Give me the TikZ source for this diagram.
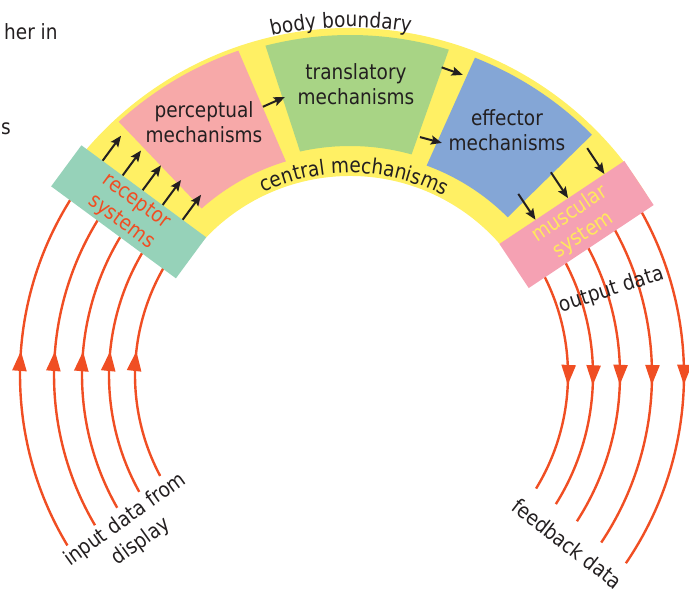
\documentclass[tikz,border=0pt]{standalone}
\usepackage{fontspec}
\setmainfont{DejaVu Sans}[FakeStretch=0.88]
\usetikzlibrary{arrows.meta,calc,decorations.markings,decorations.text}

\definecolor{ink}{HTML}{231F20}
\definecolor{signalred}{HTML}{F04E23}
\definecolor{bandyellow}{HTML}{FFF064}
\definecolor{percept}{HTML}{F7A9A9}
\definecolor{transl}{HTML}{A8D485}
\definecolor{effect}{HTML}{84A6D6}
\definecolor{recept}{HTML}{96D2B9}
\definecolor{muscle}{HTML}{F5A1B3}
\definecolor{muscletext}{HTML}{FFE95C}

\begin{document}
\begin{tikzpicture}[x=1pt,y=1pt,
  every node/.style={inner sep=0pt},
  lbl/.style={font=\fontsize{21}{25}\selectfont, text=ink, align=center},
  flow/.style={draw=ink, line width=2pt, -{Stealth[length=11pt,width=9pt,inset=2pt]}},
  signal/.style={color=signalred, line width=2.4pt},
  endblock/.style={minimum width=155pt, minimum height=51pt, inner sep=0pt,
    align=center, font=\fontsize{21}{25}\selectfont},
  curved/.style={decorate, decoration={text along path, text align=center,
    text color=ink, text={|\fontsize{21}{25}\selectfont|#1}}}
]
\useasboundingbox (0,0) rectangle (689,593);

% fragments of the surrounding page text
\node[lbl, anchor=base west] (frag1) at (4,553) {her in};
\node[lbl, anchor=base west] (frag2) at (1,458) {s};

\begin{scope}[shift={(350,218)}]
  % incoming data arcs (left)
  \foreach \i/\r/\a/\p in {1/215/208/0.555, 2/241/209/0.551, 3/268/209.7/0.546,
                           4/296/210.5/0.545, 5/330/211.1/0.542} {
    \coordinate (in\i) at (\a:\r);
    \draw[signal, postaction={decorate}, decoration={markings,
      mark=at position \p with {\arrow{Triangle[length=20pt,width=14pt]}}}]
      (in\i) arc[start angle=\a, end angle=146, radius=\r];
  }
  % outgoing data arcs (right)
  \foreach \i/\r/\a/\p in {1/218/-31.4/0.546, 2/243/-32.1/0.537, 3/270/-32.8/0.526,
                           4/302/-33.7/0.516, 5/334/-34.3/0.508} {
    \coordinate (out\i) at (32:\r);
    \draw[signal, postaction={decorate}, decoration={markings,
      mark=at position \p with {\arrow{Triangle[length=20pt,width=14pt]}}}]
      (out\i) arc[start angle=32, end angle=\a, radius=\r];
  }

  % body band
  \fill[bandyellow] (30:347) arc[start angle=30, end angle=146, radius=347]
    -- (146:199) arc[start angle=146, end angle=30, radius=199] -- cycle;

  % central blocks
  \fill[percept] (132.4:343) arc[start angle=132.4, end angle=109, radius=343]
    -- (106.7:223) arc[start angle=106.7, end angle=131.7, radius=223] -- cycle;
  \fill[transl] (104.4:340) arc[start angle=104.4, end angle=73.1, radius=340]
    -- (74.4:229) arc[start angle=74.4, end angle=102.6, radius=229] -- cycle;
  \fill[effect] (68.5:341) arc[start angle=68.5, end angle=44.8, radius=341]
    -- (45:223) arc[start angle=45, end angle=69.9, radius=223] -- cycle;

  % end blocks
  \node[endblock, fill=recept, text=signalred, rotate=-36.4] (rec) at (143.6:275)
    {receptor\\systems};
  \node[endblock, fill=muscle, text=muscletext, rotate=33.6,
    minimum width=150pt, minimum height=53pt] (mus) at (33.6:272)
    {muscular\\system};

  % block labels
  \node[lbl] (perc) at (-146,253) {perceptual\\mechanisms};
  \node[lbl] (trans) at (6,291) {translatory\\mechanisms};
  \node[lbl] (eff) at (157,245) {effector\\mechanisms};

  % receptor -> perceptual
  \foreach \i/\f in {1/0.17, 2/0.33, 3/0.49, 4/0.65, 5/0.81} {
    \coordinate (rs\i) at ($(rec.north west)!\f!(rec.north east)$);
    \coordinate (rt\i) at ($(rs\i)!31pt!90:(rec.north east)$);
    \draw[flow] (rs\i) -- (rt\i);
  }
  % perceptual -> translatory
  \coordinate (pt1) at (108:282);
  \coordinate (pt2) at (103.2:285.5);
  \draw[flow] (pt1) -- (pt2);
  % translatory -> effector
  \coordinate (te1) at (73.4:321);
  \coordinate (te2) at (69.4:320.6);
  \coordinate (te3) at (73.6:248);
  \coordinate (te4) at (68.4:249.6);
  \draw[flow] (te1) -- (te2);
  \draw[flow] (te3) -- (te4);
  % effector -> muscular
  \foreach \i/\f in {1/0.29, 2/0.55, 3/0.84} {
    \coordinate (mt\i) at ($(mus.north west)!\f!(mus.north east)$);
    \coordinate (ms\i) at ($(mt\i)!31pt!90:(mus.north east)$);
    \draw[flow] (ms\i) -- (mt\i);
  }

  % curved labels
  \path[curved={central mechanisms}] (118:202) arc[start angle=118, end angle=59.5, radius=202];
  \path[curved={body boundary}] (121.5:348) arc[start angle=121.5, end angle=61.5, radius=348];

  % data labels
  \node[lbl, rotate=18] (outd) at (18:275) {output data};
  \node[lbl, font=\fontsize{21}{27}\selectfont, rotate=35.7] (ind) at (215.7:267)
    {input data from\\display};
  \node[lbl, rotate=-37.8] (fbd) at (-37.8:275) {feedback data};
\end{scope}
\end{tikzpicture}
\end{document}
